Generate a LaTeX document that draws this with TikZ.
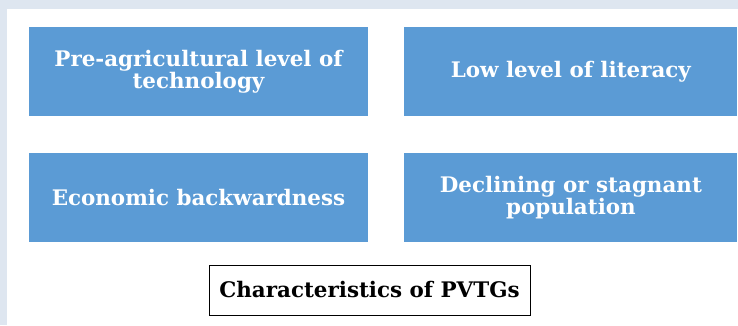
\documentclass[tikz,border=0pt]{standalone}
\usepackage{fontspec}
\setmainfont{DejaVu Serif}
\usepackage{xcolor}
\usetikzlibrary{positioning}
\definecolor{traitblue}{HTML}{5B9BD5}
\definecolor{pageblue}{HTML}{DEE6F0}
\tikzset{
    trait/.style={rectangle, fill=traitblue, text=white, align=center, inner sep=0pt,
        minimum height=89bp, font=\bfseries\fontsize{21.5}{19.5}\selectfont},
    caption/.style={rectangle, draw=black, fill=white, inner sep=0pt,
        minimum width=321bp, minimum height=50bp, font=\bfseries\fontsize{21.5}{22}\selectfont}
}

\begin{document}
\begin{tikzpicture}[x=1bp,y=-1bp]
    % Draw page background
    \useasboundingbox (0,0) rectangle (738,325);
    \fill[pageblue] (0,0) rectangle (738,325);
    \fill[white] (7,9) rectangle (738,325);

    % Draw the four characteristics
    \node[trait, minimum width=339bp] (tech) at (198.5,71.5) {Pre-agricultural level of\\technology};
    \node[trait, minimum width=333bp, right=36bp of tech] (literacy) {Low level of literacy};
    \node[trait, minimum width=339bp, below=37bp of tech] (economy) {Economic backwardness};
    \node[trait, minimum width=333bp, right=36bp of economy] (population) {Declining or stagnant\\population};

    % Add title box
    \node[caption] (title) at (369.5,290) {Characteristics of PVTGs};
\end{tikzpicture}
\end{document}
